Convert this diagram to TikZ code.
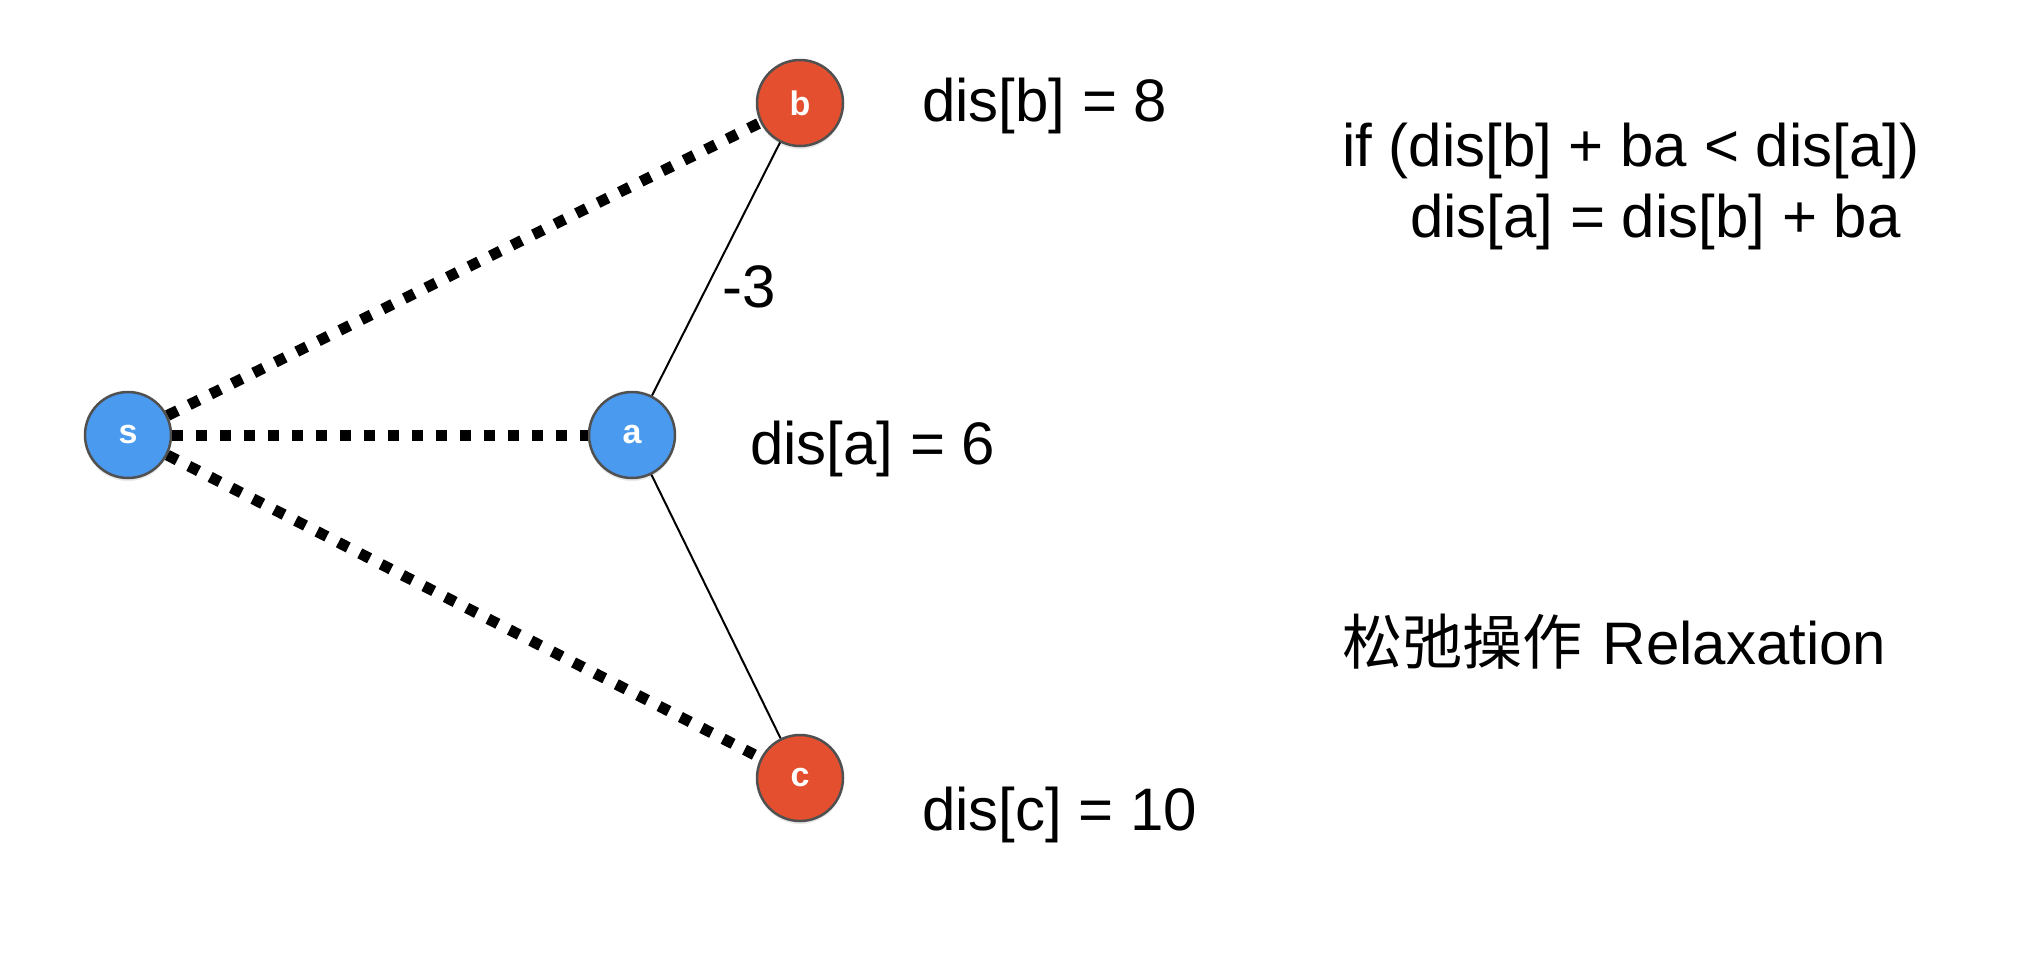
\documentclass[tikz,border=0pt]{standalone}
\usepackage{fontspec}
\setmainfont{Liberation Sans}
\newfontfamily\cjkfont{Noto Sans CJK SC}
\usetikzlibrary{shadows}
\definecolor{vblue}{HTML}{4A9BEF}
\definecolor{vred}{HTML}{E4502F}
\definecolor{vrim}{HTML}{505050}
\begin{document}
\begin{tikzpicture}[x=1pt,y=-1pt,
  vertex/.style={circle,draw=vrim,line width=2.5pt,minimum size=86pt,inner sep=0pt,
    text=white,font=\fontsize{34}{34}\selectfont\bfseries,
    drop shadow={opacity=0.18,shadow xshift=0pt,shadow yshift=-3pt}},
  srcnode/.style={vertex,fill=vblue},
  othernode/.style={vertex,fill=vred},
  dotline/.style={line width=11pt,dash pattern=on 11pt off 13pt,line cap=butt},
  edgeline/.style={line width=2pt},
  lbl/.style={anchor=base west,inner sep=0pt,font=\fontsize{60}{60}\selectfont}
]
\fill[white] (0,0) rectangle (2034,954);

% vertices
\node[srcnode] (s) at (128,435) {s};
\node[srcnode] (a) at (632,435) {a};
\node[othernode] (b) at (800,103) {b};
\node[othernode] (c) at (800,778) {c};

% tentative paths from the source
\draw[dotline] (s) -- (b);
\draw[dotline] (s) -- (a);
\draw[dotline] (s) -- (c);

% real edges
\draw[edgeline] (b) -- (a);
\draw[edgeline] (a) -- (c);

% labels
\node[lbl] (w) at (722,307) {-3};
\node[lbl] (db) at (922,121) {dis[b] = 8};
\node[lbl] (da) at (750,464) {dis[a] = 6};
\node[lbl] (dc) at (922,830) {dis[c] = 10};
\node[lbl] (cond) at (1342,166) {if (dis[b] + ba < dis[a])};
\node[lbl] (upd) at (1410,237) {dis[a] = dis[b] + ba};
\node[lbl] (relax) at (1342,664) {{\cjkfont 松弛操作}\hspace{4pt} Relaxation};
\end{tikzpicture}
\end{document}
